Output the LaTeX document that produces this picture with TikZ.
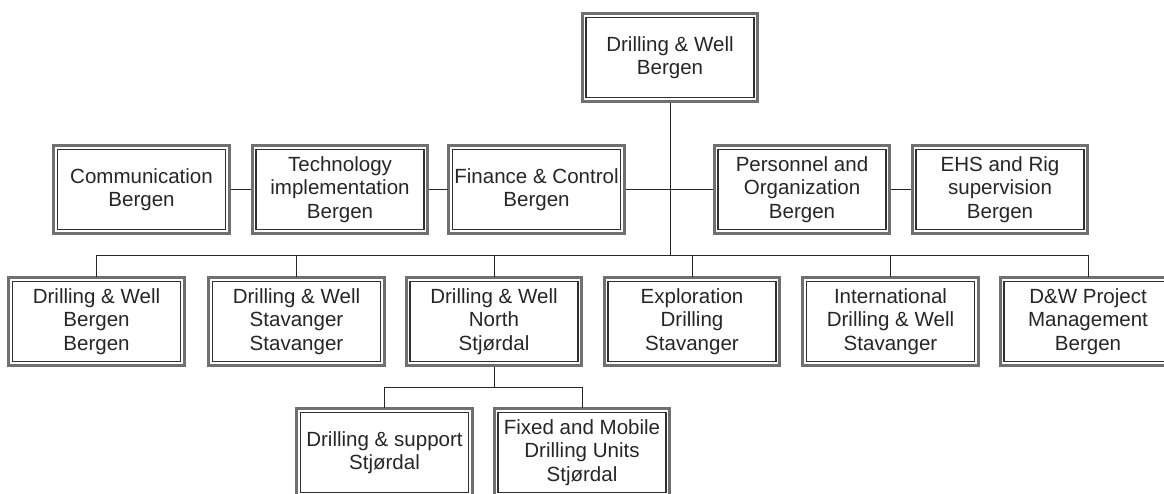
\documentclass[tikz,border=0pt]{standalone}
\usepackage{fontspec}
\setmainfont{Liberation Sans}
\definecolor{framegray}{HTML}{707070}
\definecolor{linedark}{HTML}{303030}
\definecolor{textdark}{HTML}{262626}
\begin{document}
\begin{tikzpicture}[x=0.75pt,y=-0.75pt,
  unit/.style={draw=linedark, line width=0.9pt, fill=white,
    minimum width=126pt, minimum height=60pt, inner sep=0pt,
    outer sep=3.75pt, align=center, text=textdark,
    font=\fontsize{15.4}{17.4}\selectfont},
  frame/.style={draw=framegray, line width=2.25pt},
  link/.style={draw=black!85, line width=0.75pt}]
\useasboundingbox (0,0) rectangle (1164,493);
\clip (0,0) rectangle (1164,493);

% head office
\node[unit] (head) at (670,57.5) {Drilling \& Well\\Bergen};

% staff units
\node[unit] (comm) at (141.5,189.5) {Communication\\Bergen};
\node[unit] (tech) at (340,189.5) {Technology\\implementation\\Bergen};
\node[unit] (fin)  at (536.5,189.5) {Finance \& Control\\Bergen};
\node[unit] (pers) at (802,189.5) {Personnel and\\Organization\\Bergen};
\node[unit] (ehs)  at (1000,189.5) {EHS and Rig\\supervision\\Bergen};

% line units
\node[unit] (dwb)   at (96.5,321.5) {Drilling \& Well\\Bergen\\Bergen};
\node[unit] (dws)   at (296.5,321.5) {Drilling \& Well\\Stavanger\\Stavanger};
\node[unit] (north) at (494,321.5) {Drilling \& Well\\North\\Stjørdal};
\node[unit] (expl)  at (692,321.5) {Exploration\\Drilling\\Stavanger};
\node[unit] (intl)  at (890.5,321.5) {International\\Drilling \& Well\\Stavanger};
\node[unit] (pm)    at (1088,321.5) {D\&W Project\\Management\\Bergen};

% units under North
\node[unit] (supp)  at (384.5,452.5) {Drilling \& support\\Stjørdal};
\node[unit] (mob)   at (582,452.5) {Fixed and Mobile\\Drilling Units\\Stjørdal};

% outer frames of the double borders (anchors sit 3.75pt outside the inner line)
\foreach \n in {head,comm,tech,fin,pers,ehs,dwb,dws,north,expl,intl,pm,supp,mob}
  \draw[frame] ([shift={(1.1pt,1.1pt)}]\n.south west) rectangle ([shift={(-1.1pt,-1.1pt)}]\n.north east);

% junction points of the buses
\coordinate (busA) at (670,255);
\coordinate (busB) at (494,387);

% staff row
\draw[link] (comm) -- (tech);
\draw[link] (tech) -- (fin);
\draw[link] (fin) -- (pers);
\draw[link] (pers) -- (ehs);

% head office down to the line units
\draw[link] (head.south) -- (busA);
\draw[link] (dwb.north |- busA) -- (pm.north |- busA);
\foreach \n in {dwb,dws,north,expl,intl,pm}
  \draw[link] (\n.north |- busA) -- (\n.north);

% North down to its units
\draw[link] (north.south) -- (busB);
\draw[link] (supp.north |- busB) -- (mob.north |- busB);
\foreach \n in {supp,mob}
  \draw[link] (\n.north |- busB) -- (\n.north);
\end{tikzpicture}
\end{document}
